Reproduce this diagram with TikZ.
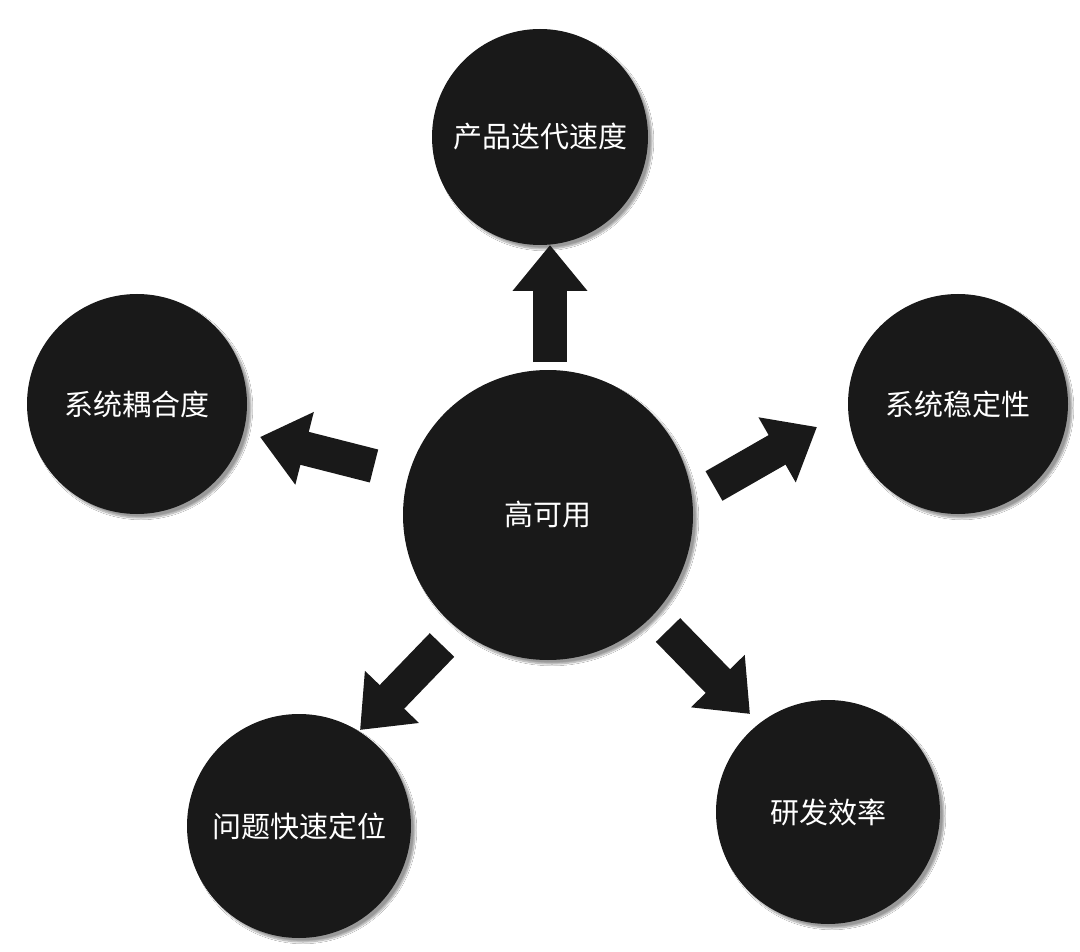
\documentclass[tikz,border=0pt]{standalone}
\usepackage{fontspec}
\newfontfamily\cjk{Noto Sans CJK SC}
\usetikzlibrary{arrows.meta,shadows.blur}
\begin{document}
\begin{tikzpicture}[x=1pt,y=-1pt,
  ball/.style={circle,fill=black!90,draw=none,text=white,font=\cjk\fontsize{29}{34}\selectfont,inner sep=0pt,blur shadow={shadow xshift=4pt,shadow yshift=-4pt,shadow blur steps=8,shadow opacity=40}},
  blk/.style={line width=34pt,draw=black!90,-{Triangle[length={46pt 0},width={72pt 0}]}}]
\path[use as bounding box,fill=white] (0,0) rectangle (1080,952);
\node[ball,minimum size=290pt] (c) at (548,515) {高可用};
\node[ball,minimum size=216pt] (t) at (540,137) {产品迭代速度};
\node[ball,minimum size=220pt] (l) at (137,404) {系统耦合度};
\node[ball,minimum size=220pt] (r) at (958,404) {系统稳定性};
\node[ball,minimum size=224pt] (bl) at (299,826) {问题快速定位};
\node[ball,minimum size=224pt] (br) at (828,812) {研发效率};
\coordinate (t0) at (550,362); \coordinate (t1) at (550,245);
\coordinate (l0) at (374,466); \coordinate (l1) at (260,437);
\coordinate (r0) at (714,486); \coordinate (r1) at (817,427);
\coordinate (bl0) at (442,645); \coordinate (bl1) at (360,730);
\coordinate (br0) at (668,630); \coordinate (br1) at (750,714);
\draw[blk] (t0) -- (t1);
\draw[blk] (l0) -- (l1);
\draw[blk] (r0) -- (r1);
\draw[blk] (bl0) -- (bl1);
\draw[blk] (br0) -- (br1);
\end{tikzpicture}
\end{document}
